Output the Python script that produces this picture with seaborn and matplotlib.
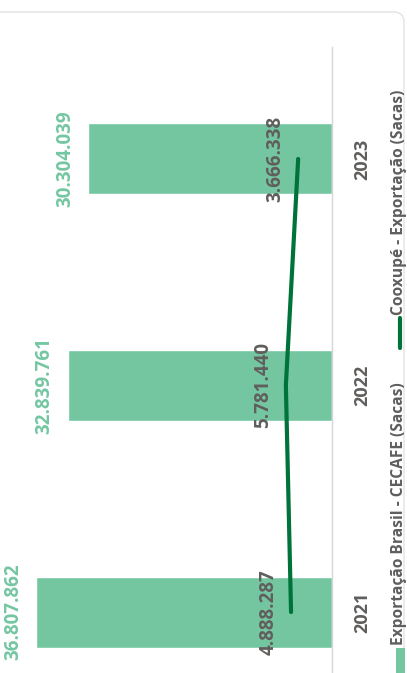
import matplotlib
matplotlib.use('Agg')
import matplotlib.pyplot as plt
import seaborn as sns
import pandas as pd
from matplotlib.patches import FancyBboxPatch, Rectangle
from matplotlib.lines import Line2D

# dados
anos = ['2021', '2022', '2023']
cecafe = [36807862, 32839761, 30304039]      # Exportação Brasil - CECAFE (Sacas)
cooxupe = [4888287, 5781440, 3666338]        # Cooxupé - Exportação (Sacas)
legenda = ['Exportação Brasil - CECAFE (Sacas)', 'Cooxupé - Exportação (Sacas)']

verde = '#74c6a1'
verde_escuro = '#00733a'
cinza = '#605e5c'

sns.set_theme(style='white')
plt.rcParams['font.family'] = ['Open Sans', 'DejaVu Sans']

W, H = 407, 673
fig = plt.figure(figsize=(W / 100, H / 100), dpi=100)

# moldura do cartão
fig.patches.append(FancyBboxPatch((-0.3, -0.5), 4.34, (H - 12) / 100 + 0.5,
                                  boxstyle='round,pad=0,rounding_size=0.1',
                                  transform=fig.dpi_scale_trans, facecolor='none',
                                  edgecolor='#e3e3e3', lw=1))

ax = fig.add_axes([10 / W, 0, 322 / W, (H - 47) / H])

# gráfico girado: 2023 em cima, 2021 embaixo
df = pd.DataFrame({'ano': anos, 'cecafe': cecafe, 'cooxupe': cooxupe})
df = df.iloc[::-1].reset_index(drop=True)
df['pos'] = range(len(df))

sns.barplot(data=df, x='cecafe', y='ano', orient='h', order=list(df['ano']),
            color=verde, saturation=1, width=0.313, ax=ax)
ax.set_xlim(40.05e6, 0)

ax2 = ax.twiny()
sns.lineplot(data=df, x='cooxupe', y='pos', orient='y', sort=False,
             color=verde_escuro, lw=3, ax=ax2)
ax2.set_xlim(53.2e6, -2.15e6)

for a in (ax, ax2):
    a.set_ylim(2.269, -0.494)
    a.set_xticks([])
    a.set_xlabel('')
    a.set_ylabel('')
    for s in a.spines.values():
        s.set_visible(False)
ax.spines['right'].set_visible(True)
ax.spines['right'].set_color('#d6d6d6')
ax.spines['right'].set_linewidth(1)

ax.set_yticks(df['pos'], df['ano'])
ax.yaxis.tick_right()
ax.tick_params(axis='y', length=0, pad=15, labelsize=13, labelcolor=cinza, labelrotation=90)
for lbl in ax.get_yticklabels():
    lbl.set_va('center')
    lbl.set_fontweight('bold')
ax2.tick_params(axis='y', left=False, right=False, labelleft=False, labelright=False)

def fmt(v):
    return f'{v:,}'.replace(',', '.')

for i, row in df.iterrows():
    ax.annotate(fmt(row['cecafe']), xy=(row['cecafe'], row['pos']), xytext=(-9.5, 0),
                textcoords='offset points', rotation=90, ha='right', va='center',
                fontsize=13.5, fontweight='bold', color=verde)
    ax2.annotate(fmt(row['cooxupe']), xy=(row['cooxupe'], row['pos']), xytext=(-16.5, 0),
                 textcoords='offset points', rotation=90, ha='center', va='center',
                 fontsize=13.5, fontweight='bold', color=cinza)

# legenda (girada)
fig.patches.append(Rectangle((396 / W, 0), 9 / W, 25 / H, transform=fig.transFigure,
                             facecolor=verde, edgecolor='none'))
fig.text(399 / W, (H - 645) / H, legenda[0], rotation=90, ha='center', va='bottom',
         fontsize=11.2, fontweight='bold', color=cinza)
fig.lines.append(Line2D([400 / W, 400 / W], [(H - 348) / H, (H - 318) / H],
                        transform=fig.transFigure, color=verde_escuro, lw=3))
fig.text(399 / W, (H - 315) / H, legenda[1], rotation=90, ha='center', va='bottom',
         fontsize=11.2, fontweight='bold', color=cinza)

fig.savefig('out.png', dpi=100)
